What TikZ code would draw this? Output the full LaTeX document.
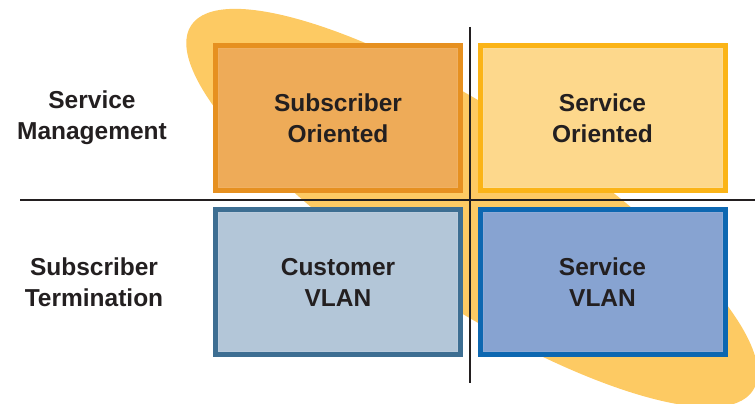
\documentclass[tikz,border=0pt]{standalone}
\usepackage{fontspec}
\setmainfont{Liberation Sans}
\usetikzlibrary{calc}

\definecolor{inkdark}{HTML}{231F20}
\definecolor{blobcol}{HTML}{FDCA63}
\definecolor{subfill}{HTML}{EEAB58}
\definecolor{subedge}{HTML}{E69020}
\definecolor{subline}{HTML}{F0B062}
\definecolor{srvfill}{HTML}{FDD88C}
\definecolor{srvedge}{HTML}{FBB417}
\definecolor{srvline}{HTML}{FDDC96}
\definecolor{cusfill}{HTML}{B3C6D8}
\definecolor{cusedge}{HTML}{3D6E92}
\definecolor{cusline}{HTML}{BACBDC}
\definecolor{svlfill}{HTML}{87A3D1}
\definecolor{svledge}{HTML}{0D67B1}
\definecolor{svlline}{HTML}{8FAAD6}

\tikzset{
  lbl/.style={font=\bfseries\fontsize{24.5}{31}\selectfont, text=inkdark, align=center, inner sep=0pt},
  quad/.style={lbl, minimum width=245pt, minimum height=145pt, line width=5pt, outer sep=0pt},
  divider/.style={draw=inkdark, line width=2.4pt},
  inframe/.style={line width=1pt},
}

\begin{document}
\begin{tikzpicture}[x=1pt,y=-1pt]
  \useasboundingbox (0,0) rectangle (755,404);
  \clip (0,0) rectangle (755,404);

  % tilted backdrop ellipse
  \begin{scope}[shift={(472,208)}, rotate=-33]
    \fill[blobcol] (0,0) ellipse [x radius=335pt, y radius=95pt];
  \end{scope}

  % dividing axes
  \coordinate (hl) at (20,200);
  \coordinate (hr) at (755,200);
  \coordinate (vt) at (470,27);
  \coordinate (vb) at (470,383);
  \draw[divider] (hl) -- (hr);
  \draw[divider] (vt) -- (vb);

  % quadrants
  \node[quad, fill=subfill, draw=subedge] (b1) at (338,118) {Subscriber\\Oriented};
  \node[quad, fill=srvfill, draw=srvedge] (b2) at (602.5,118) {Service\\Oriented};
  \node[quad, fill=cusfill, draw=cusedge] (b3) at (338,282) {Customer\\VLAN};
  \node[quad, fill=svlfill, draw=svledge] (b4) at (602.5,282) {Service\\VLAN};

  % faint inner frames just inside each border
  \foreach \b/\c in {b1/subline, b2/srvline, b3/cusline, b4/svlline}{
    \draw[inframe, \c] ($(\b.north west)+(3,3)$) rectangle ($(\b.south east)+(-3,-3)$);
  }

  % row labels
  \node[lbl] (rowtop) at (92,118) {Service\\Management};
  \node[lbl] (rowbot) at (94,282) {Subscriber\\Termination};
\end{tikzpicture}
\end{document}
